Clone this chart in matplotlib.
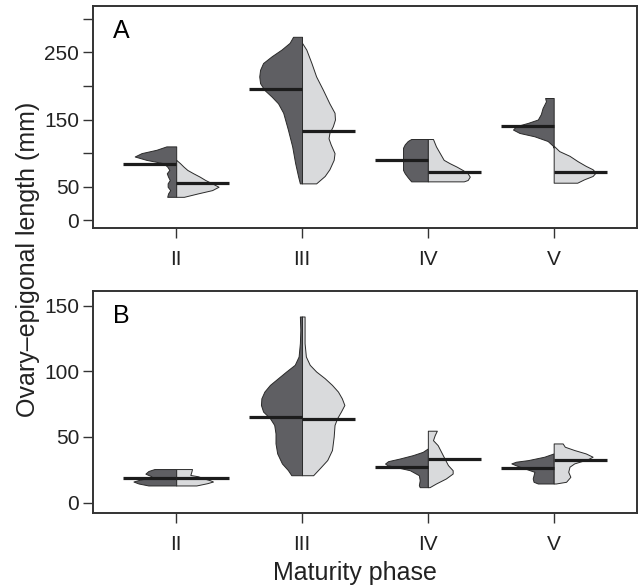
import matplotlib.pyplot as plt

plt.rcParams['font.family'] = ['Liberation Sans', 'DejaVu Sans']

phases = ['II', 'III', 'IV', 'V']

# Panel A: each violin half = lengths (mm, top to bottom) + relative density
a_left_len = [
    [110, 105, 100, 95, 90, 85, 80, 75, 70, 65, 60, 55, 50, 45, 40, 35],
    [273, 264, 254, 244, 234, 224, 214, 204, 194, 184, 174, 160, 135, 110, 85, 65, 55],
    [121, 118, 113, 108, 75, 70, 64, 58],
    [182, 177, 167, 158, 150, 145, 140, 135, 130, 125, 118, 111, 108],
]
a_left_den = [
    [0.23, 0.46, 0.81, 0.97, 0.70, 0.30, 0.21, 0.16, 0.22, 0.19, 0.15, 0.20, 0.20, 0.14, 0.19, 0.21],
    [0.21, 0.29, 0.48, 0.71, 0.91, 0.98, 1.0, 0.98, 0.88, 0.71, 0.56, 0.44, 0.33, 0.23, 0.16, 0.09, 0.05],
    [0.39, 0.47, 0.54, 0.58, 0.58, 0.54, 0.47, 0.39],
    [0.20, 0.18, 0.26, 0.30, 0.37, 0.60, 0.88, 0.95, 0.80, 0.45, 0.14, 0.02, 0.0],
]
a_right_len = [
    [90, 85, 80, 75, 70, 65, 60, 55, 50, 45, 40, 35],
    [264, 254, 234, 214, 194, 174, 160, 150, 140, 130, 122, 113, 100, 90, 76, 66, 55],
    [121, 110, 100, 90, 85, 80, 75, 70, 65, 60, 58],
    [111, 103, 96, 88, 81, 76, 71, 66, 61, 56],
]
a_right_den = [
    [0.0, 0.09, 0.17, 0.26, 0.40, 0.55, 0.68, 0.84, 0.99, 0.84, 0.50, 0.18],
    [0.0, 0.10, 0.22, 0.33, 0.49, 0.64, 0.76, 0.77, 0.72, 0.64, 0.62, 0.67, 0.76, 0.74, 0.64, 0.53, 0.33],
    [0.12, 0.19, 0.28, 0.37, 0.51, 0.67, 0.81, 0.93, 0.98, 0.93, 0.84],
    [0.0, 0.13, 0.37, 0.56, 0.75, 0.91, 0.98, 0.91, 0.71, 0.55],
]
a_left_med = [84, 195, 90, 141]
a_right_med = [56, 133, 72, 72]

# Panel B
b_left_len = [
    [25.5, 24, 22, 20, 19, 17.5, 16, 14.5, 13],
    [141.7, 131.5, 121.4, 111.2, 104.9, 99.8, 94.7, 89.6, 84.5, 79.4, 74.3, 69.3, 64.2, 59.1, 52.7, 45.1, 37.4, 29.8, 24.7, 20.8],
    [41.2, 38.6, 36.1, 33.5, 31.5, 29.7, 28.5, 24.6, 20.8, 17, 13.2, 11.7],
    [37.4, 34.9, 32.3, 31.1, 29.8, 27.8, 23.4, 20.9, 18.3, 15.8, 14.5],
]
b_left_den = [
    [0.51, 0.65, 0.72, 0.58, 0.58, 0.84, 1.0, 0.88, 0.65],
    [0.05, 0.04, 0.05, 0.08, 0.17, 0.37, 0.56, 0.75, 0.88, 0.95, 0.96, 0.91, 0.75, 0.65, 0.62, 0.62, 0.58, 0.47, 0.33, 0.25],
    [0.0, 0.12, 0.35, 0.66, 0.93, 1.0, 0.95, 0.42, 0.21, 0.19, 0.21, 0.19],
    [0.0, 0.22, 0.60, 0.88, 0.99, 0.84, 0.45, 0.47, 0.49, 0.47, 0.37],
]
b_right_len = [
    [25.5, 23, 21, 20, 18.3, 17, 16, 14.7, 13],
    [141.7, 121.4, 111.2, 104.9, 99.8, 94.7, 89.6, 84.5, 79.4, 74.3, 69.3, 64.2, 59.1, 50.2, 40, 32.4, 26, 20.8],
    [54.7, 51.3, 47.5, 43.7, 38.6, 33.5, 28.5, 24.6, 22.1, 18.3, 14.5, 11.7],
    [45, 42.5, 40, 37.4, 34.9, 32.9, 29.8, 27.3, 23.4, 19.6, 15.8, 14.5],
]
b_right_den = [
    [0.37, 0.35, 0.33, 0.51, 0.65, 0.79, 0.86, 0.72, 0.47],
    [0.06, 0.06, 0.09, 0.18, 0.33, 0.53, 0.70, 0.84, 0.93, 0.99, 0.91, 0.82, 0.76, 0.74, 0.70, 0.59, 0.41, 0.26],
    [0.21, 0.16, 0.12, 0.23, 0.31, 0.39, 0.47, 0.58, 0.58, 0.42, 0.19, 0.04],
    [0.21, 0.26, 0.48, 0.75, 0.91, 0.79, 0.48, 0.37, 0.34, 0.39, 0.29, 0.05],
]
b_left_med = [18.8, 65, 26.7, 26]
b_right_med = [18.8, 63.3, 33, 32.3]

DARK = '#5f5f63'
LIGHT = '#d9dadc'
EDGE = '#2a2a2a'
HALF = 0.34   # max half width of a violin
MED = 0.42    # length of median bar


def draw_panel(ax, l_len, l_den, r_len, r_den, l_med, r_med):
    for i in range(len(phases)):
        pos = i + 1
        xl = [pos - HALF * d for d in l_den[i]]
        xr = [pos + HALF * d for d in r_den[i]]
        ax.fill_betweenx(l_len[i], xl, pos, facecolor=DARK, edgecolor=EDGE, linewidth=0.7, zorder=2)
        ax.fill_betweenx(r_len[i], pos, xr, facecolor=LIGHT, edgecolor=EDGE, linewidth=0.7, zorder=2)
        ax.plot([pos - MED, pos], [l_med[i], l_med[i]], color='#1c1c1c', lw=2.3,
                solid_capstyle='butt', zorder=3)
        ax.plot([pos, pos + MED], [r_med[i], r_med[i]], color='#1c1c1c', lw=2.3,
                solid_capstyle='butt', zorder=3)
    ax.set_xlim(0.34, 4.66)
    ax.set_xticks(range(1, len(phases) + 1))
    ax.set_xticklabels(phases)
    for s in ax.spines.values():
        s.set_linewidth(1.4)
        s.set_color('#333333')
    ax.tick_params(axis='both', direction='out', length=7, width=1, color='#333333',
                   labelsize=15, labelcolor='#222222')
    ax.tick_params(axis='x', pad=9)
    ax.tick_params(axis='y', pad=3)


fig = plt.figure(figsize=(6.38, 5.87), dpi=100)
axA = fig.add_axes([0.146, 0.612, 0.852, 0.378])
axB = fig.add_axes([0.146, 0.126, 0.852, 0.378])

draw_panel(axA, a_left_len, a_left_den, a_right_len, a_right_den, a_left_med, a_right_med)
draw_panel(axB, b_left_len, b_left_den, b_right_len, b_right_den, b_left_med, b_right_med)

axA.set_ylim(-11, 319)
axA.set_yticks([0, 50, 100, 150, 200, 250, 300])
axA.set_yticklabels(['0', '50', '', '150', '', '250', ''])
axB.set_ylim(-8, 161)
axB.set_yticks([0, 50, 100, 150])

axA.text(0.037, 0.856, 'A', transform=axA.transAxes, fontsize=18, va='baseline')
axB.text(0.037, 0.856, 'B', transform=axB.transAxes, fontsize=18, va='baseline')

fig.text(0.044, 0.558, 'Ovary\u2013epigonal length (mm)', rotation=90, fontsize=18,
         ha='center', va='center', color='#222222')
fig.text(0.556, 0.012, 'Maturity phase', fontsize=18, ha='center', va='baseline',
         color='#222222')

fig.savefig('out.png', dpi=100)
